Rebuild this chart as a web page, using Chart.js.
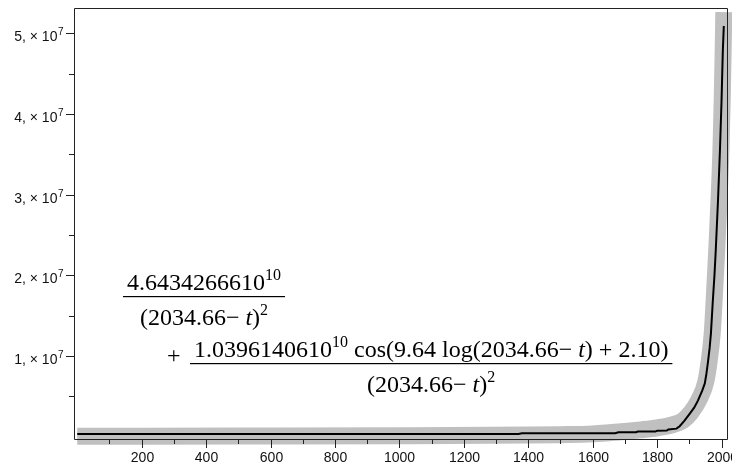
<!DOCTYPE html>
<html>
<head>
<meta charset="utf-8">
<script src="https://cdn.jsdelivr.net/npm/chart.js@4.4.1/dist/chart.umd.min.js"></script>
<style>
  html, body { margin: 0; padding: 0; background: #fff; }
  #wrap { width: 732px; height: 467px; }
</style>
</head>
<body>
<div id="wrap"><canvas id="plot" width="732" height="467"></canvas></div>
<script>
// observed values (black line)
const obsYears = [0, 1370, 1380, 1670, 1680, 1735, 1740, 1795, 1800, 1830, 1835, 1860, 1870, 1885,
  1902, 1915, 1927, 1940, 1948, 1953, 1958, 1963, 1967, 1973, 1978, 1982, 1989, 1995, 2000, 2004, 2007]
const obsValues = [3.3e5, 3.3e5, 4.2e5, 4.2e5, 5.5e5, 5.5e5, 6.4e5, 6.4e5, 7.4e5, 7.6e5, 8.9e5, 1.0e6, 1.3e6, 2.0e6,
  2.9e6, 3.6e6, 4.5e6, 5.7e6, 6.6e6, 7.8e6, 9.3e6, 1.1e7, 1.28e7, 1.69e7, 2.0e7, 2.31e7, 2.93e7, 3.55e7, 4.17e7, 4.79e7, 5.09e7]

// fitted curve (thick grey band)
const fitYears = [0, 500, 1000, 1400, 1500, 1600, 1700, 1750, 1800, 1850, 1880, 1905, 1930, 1951,
  1962, 1971, 1977, 1985, 1992, 1998, 2002, 2005, 2007]
const fitValues = [0.5e5, 0.8e5, 1.2e5, 2.0e5, 2.5e5, 3.5e5, 6.5e5, 8.5e5, 1.1e6, 1.5e6, 2.0e6, 3.0e6, 4.6e6, 6.8e6,
  9.5e6, 1.28e7, 1.69e7, 2.31e7, 2.93e7, 3.55e7, 4.17e7, 4.79e7, 5.26e7]

// axis ticks
const xTicks = [100, 200, 300, 400, 500, 600, 700, 800, 900, 1000, 1100, 1200, 1300, 1400, 1500, 1600, 1700, 1800, 1900, 2000]
const xLabels = ["", "200", "", "400", "", "600", "", "800", "", "1000", "", "1200", "", "1400", "", "1600", "", "1800", "", "2000"]
const yTicks = [5e6, 1e7, 1.5e7, 2e7, 2.5e7, 3e7, 3.5e7, 4e7, 4.5e7, 5e7]
const yLabels = ["", "1", "", "2", "", "3", "", "4", "", "5"]

const AXIS = "#222"
const TICK_FONT = '14px "Liberation Sans", Arial, sans-serif'
const SUP_FONT = '10px "Liberation Sans", Arial, sans-serif'
const SERIF = '"Liberation Serif", "Times New Roman", serif'
const EQ_SIZE = 24

const toPoints = (xs, ys) => xs.map((x, i) => ({ x, y: ys[i] }))

// runs of text: [string, kind] with kind = "" | "it" | "sup"
function runFont(kind) {
  if (kind === "sup") return `${Math.round(EQ_SIZE * 0.68)}px ${SERIF}`
  if (kind === "it") return `italic ${EQ_SIZE}px ${SERIF}`
  return `${EQ_SIZE}px ${SERIF}`
}

function runsWidth(ctx, runs) {
  let w = 0
  runs.forEach(([t, k]) => { ctx.font = runFont(k); w += ctx.measureText(t).width })
  return w
}

function drawRuns(ctx, runs, x, y) {
  runs.forEach(([t, k]) => {
    ctx.font = runFont(k)
    ctx.fillText(t, x, k === "sup" ? y - EQ_SIZE * 0.42 : y)
    x += ctx.measureText(t).width
  })
}

const denom = [["(2034.66\u2212 ", ""], ["t", "it"], [")", ""], ["2", "sup"]]
const num1 = [["4.6434266610", ""], ["10", "sup"]]
const num2 = [["1.0396140610", ""], ["10", "sup"], [" cos(9.64 log(2034.66\u2212 ", ""], ["t", "it"], [") + 2.10)", ""]]

function drawFraction(ctx, num, den, left, barY, pad) {
  const wn = runsWidth(ctx, num)
  const wd = runsWidth(ctx, den)
  const w = Math.max(wn, wd) + pad * 2
  const cx = left + w / 2
  ctx.fillRect(left, barY, w, 1.2)
  drawRuns(ctx, num, cx - wn / 2, barY - 6)
  drawRuns(ctx, den, cx - wd / 2, barY + 29)
}

const maplePlot = {
  id: "maplePlot",
  afterDraw(chart) {
    const ctx = chart.ctx
    const { left, right, top, bottom } = chart.chartArea
    const xs = chart.scales.x
    const ys = chart.scales.y
    ctx.save()

    // box
    ctx.strokeStyle = AXIS
    ctx.lineWidth = 1
    ctx.beginPath()
    ctx.moveTo(left + 0.5, top + 0.5)
    ctx.lineTo(right - 0.5, top + 0.5)
    ctx.lineTo(right - 0.5, bottom + 0.5)
    ctx.lineTo(left + 0.5, bottom + 0.5)
    ctx.closePath()
    ctx.stroke()

    // x ticks and labels
    ctx.fillStyle = "#111"
    ctx.font = TICK_FONT
    ctx.textAlign = "center"
    ctx.textBaseline = "alphabetic"
    xTicks.forEach((v, i) => {
      const px = Math.round(xs.getPixelForValue(v)) + 0.5
      const len = xLabels[i] ? 8 : 4
      ctx.beginPath()
      ctx.moveTo(px, bottom + 1)
      ctx.lineTo(px, bottom + 1 + len)
      ctx.stroke()
      if (xLabels[i]) ctx.fillText(xLabels[i], px, bottom + 23)
    })

    // y ticks and labels
    yTicks.forEach((v, i) => {
      const py = Math.round(ys.getPixelForValue(v)) + 0.5
      const len = yLabels[i] ? 8 : 5
      ctx.beginPath()
      ctx.moveTo(left, py)
      ctx.lineTo(left - len, py)
      ctx.stroke()
      if (!yLabels[i]) return
      ctx.textAlign = "left"
      ctx.font = SUP_FONT
      const ws = ctx.measureText("7").width
      ctx.font = TICK_FONT
      const main = yLabels[i] + ", \u00d7 10"
      const wm = ctx.measureText(main).width
      const x0 = left - 11 - ws - wm
      ctx.fillText(main, x0, py + 7)
      ctx.font = SUP_FONT
      ctx.fillText("7", x0 + wm + 0.5, py + 1)
    })

    // fitted expression
    ctx.fillStyle = "#000"
    ctx.textAlign = "left"
    drawFraction(ctx, num1, denom, 123, 296, 4)
    ctx.font = runFont("")
    ctx.fillText("+", 167, 363)
    drawFraction(ctx, num2, denom, 190, 363, 4)

    ctx.restore()
  }
}

new Chart(document.getElementById("plot"), {
  type: "line",
  data: {
    datasets: [
      {
        data: toPoints(obsYears, obsValues),
        borderColor: "#000",
        borderWidth: 2,
        pointRadius: 0,
        tension: 0,
        clip: false
      },
      {
        data: toPoints(fitYears, fitValues),
        borderColor: "#c0c0c0",
        borderWidth: 17,
        borderJoinStyle: "round",
        borderCapStyle: "butt",
        pointRadius: 0,
        cubicInterpolationMode: "monotone",
        clip: false
      }
    ]
  },
  options: {
    responsive: false,
    animation: false,
    events: [],
    layout: { padding: { left: 74, top: 8, right: 4, bottom: 28 } },
    plugins: { legend: { display: false }, tooltip: { enabled: false } },
    scales: {
      x: { type: "linear", min: -10, max: 2020, display: false },
      y: { type: "linear", min: -2.85e5, max: 5.312e7, display: false }
    }
  },
  plugins: [maplePlot]
})
</script>
</body>
</html>
